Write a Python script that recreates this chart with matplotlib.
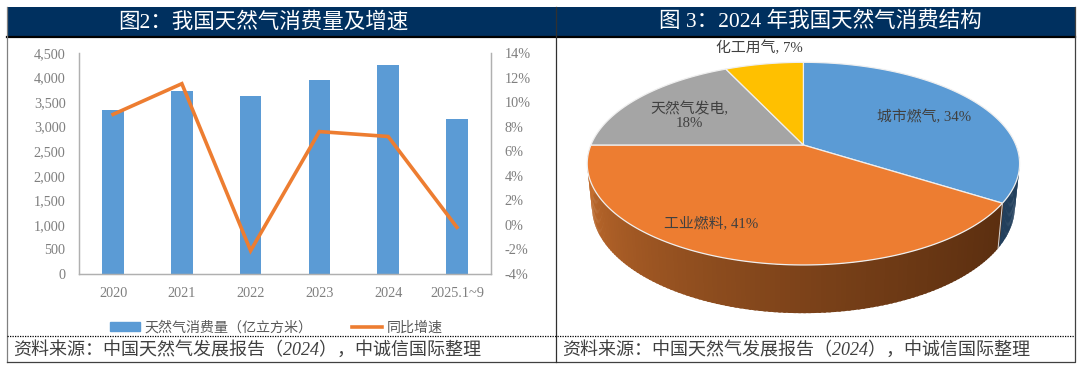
import numpy as np
import matplotlib
matplotlib.use('Agg')
import matplotlib.pyplot as plt
from matplotlib.lines import Line2D
from matplotlib.patches import Patch

plt.rcParams['font.family'] = ['Liberation Serif', 'Noto Sans CJK SC']

# left chart data
years = ['2020', '2021', '2022', '2023', '2024', '2025.1~9']
consumption = [3330, 3720, 3625, 3945, 4250, 3165]
growth = [9.0, 11.5, -2.1, 7.6, 7.2, -0.2]
left_ticks = [0, 500, 1000, 1500, 2000, 2500, 3000, 3500, 4000, 4500]
right_ticks = [-4, -2, 0, 2, 4, 6, 8, 10, 12, 14]

# pie data, clockwise from the top
pie_names = ['城市燃气', '工业燃料', '天然气发电', '化工用气']
pie_shares = [34, 41, 18, 7]
pie_colors = ['#5B9BD5', '#ED7D31', '#A5A5A5', '#FFC000']

title_left = '图2：我国天然气消费量及增速'
title_right = '图 3：2024 年我国天然气消费结构'
source = '资料来源：中国天然气发展报告（2024），中诚信国际整理'

W, H = 1080, 373
NAVY = '#00305F'
GREY = '#7F7F7F'
DARK = '#404040'

fig = plt.figure(figsize=(W / 100, H / 100), dpi=100)

# background axes in pixels, frame and pie live here
bg = fig.add_axes([0, 0, 1, 1])
bg.set_xlim(0, W)
bg.set_ylim(H, 0)
bg.axis('off')

bg.fill_between([6.5, 1074.5], 7, 36, color=NAVY, lw=0)
bg.plot([6.5, 1074.5], [37, 37], color='black', lw=1.6)
bg.plot([6.7, 6.7], [7, 362], color='#808080', lw=0.9)
bg.plot([6.7, 1074.5, 1074.5], [362.3, 362.3, 7], color='#404040', lw=0.9)
bg.plot([556.3, 556.3], [7, 362], color='#303030', lw=0.9)
bg.plot([7, 1074], [335.7, 335.7], color='black', lw=0.9, ls=(0, (1, 1)))

bg.text(263, 22, title_left, color='white', fontsize=15.5, weight='medium', ha='center', va='center')
bg.text(820.7, 22, title_right, color='white', fontsize=15.5, weight='medium', ha='center', va='center')
bg.text(13, 350, source, color=DARK, fontsize=13, style='italic', va='center')
bg.text(562.4, 350, source, color=DARK, fontsize=13, style='italic', va='center')

# bars and line
ax = fig.add_axes([78.7 / W, 1 - 274 / H, 412.6 / W, 221 / H])
x = np.arange(len(years))
ax.bar(x, consumption, width=0.315, color='#5B9BD5')
ax.set_xlim(-0.5, 5.5)
ax.set_ylim(0, 4500)
ax.set_xticks(x, years)
ax.set_yticks(left_ticks, [f'{t:,}' for t in left_ticks])
ax.tick_params(axis='both', length=0, labelsize=10.3, labelcolor=GREY)
ax.tick_params(axis='x', pad=9.5)
ax.tick_params(axis='y', pad=9.5)
ax.patch.set_alpha(0)

ax2 = ax.twinx()
ax2.plot(x, growth, color='#ED7D31', lw=2.6, solid_joinstyle='miter')
ax2.set_ylim(-4, 14)
ax2.set_yticks(right_ticks, [f'{t}%' for t in right_ticks])
ax2.tick_params(axis='y', length=0, labelsize=10.3, labelcolor=GREY, pad=9.5)
for a in (ax, ax2):
    a.spines['top'].set_visible(False)
    for s in ('left', 'right', 'bottom'):
        a.spines[s].set_color('#B0B0B0')
        a.spines[s].set_linewidth(0.9)

handles = [Patch(color='#5B9BD5'), Line2D([], [], color='#ED7D31', lw=2.6)]
fig.legend(handles, ['天然气消费量（亿立方米）', '同比增速'], ncol=2, frameon=False,
           loc='center', bbox_to_anchor=(276 / W, 1 - 328 / H), fontsize=10.1,
           labelcolor='#595959', handlelength=2.17, handleheight=0.6,
           columnspacing=2.8, handletextpad=0.3, borderpad=0)

# pie seen in perspective: circle mapped so the apex sits above the ellipse centre
CX, CY = 803.4, 145
K, PW, PH = 0.184, 212.5, 97.9


def rim(theta, sx=1.0, sy=1.0, dy=0.0):
    d = 1 + K * np.cos(theta)
    return CX + sx * PW * np.sin(theta) / d, CY - sy * PH * np.cos(theta) / d + dy


def lerp(a, b, t):
    a, b = np.array(matplotlib.colors.to_rgb(a)), np.array(matplotlib.colors.to_rgb(b))
    return a + (b - a) * t


edges = 2 * np.pi * np.cumsum([0] + pie_shares) / sum(pie_shares)

# wall, right side first
bottom = dict(sx=0.978, sy=1.05, dy=42.2)
wall = np.linspace(np.pi / 2, 3 * np.pi / 2, 160)
for t0, t1 in zip(wall[:-1], wall[1:]):
    if t1 <= edges[1]:
        c = '#223F5C'
    else:
        f = (t0 - edges[1]) / (wall[-1] - edges[1])
        c = lerp('#5C2F10', '#CC7230', max(f, 0) ** 1.3)
    x0, y0 = rim(t0)
    x1, y1 = rim(t1 + 0.01)
    x2, y2 = rim(t1 + 0.01, **bottom)
    x3, y3 = rim(t0, **bottom)
    bg.fill([x0, x1, x2, x3], [y0, y1, y2, y3], color=c, lw=0)
bx, by = rim(edges[1]), rim(edges[1], **bottom)
bg.plot([bx[0], by[0]], [bx[1], by[1]], color='#D9D9D9', lw=0.7)

# top face
for i, c in enumerate(pie_colors):
    t = np.linspace(edges[i], edges[i + 1], 120)
    px, py = rim(t)
    bg.fill(np.r_[CX, px], np.r_[CY, py], facecolor=c, edgecolor='#EFEFEF', lw=0.9)

label_pos = [(924, 116.5), (711, 223), (689.8, 115.5), (759, 47.5)]
for name, share, (lx, ly) in zip(pie_names, pie_shares, label_pos):
    sep = ',\n' if name == '天然气发电' else ', '
    bg.text(lx, ly, f'{name}{sep}{share}%', color=DARK, fontsize=10.7,
            ha='center', va='center', linespacing=1.1)

fig.savefig('out.png', dpi=100)
